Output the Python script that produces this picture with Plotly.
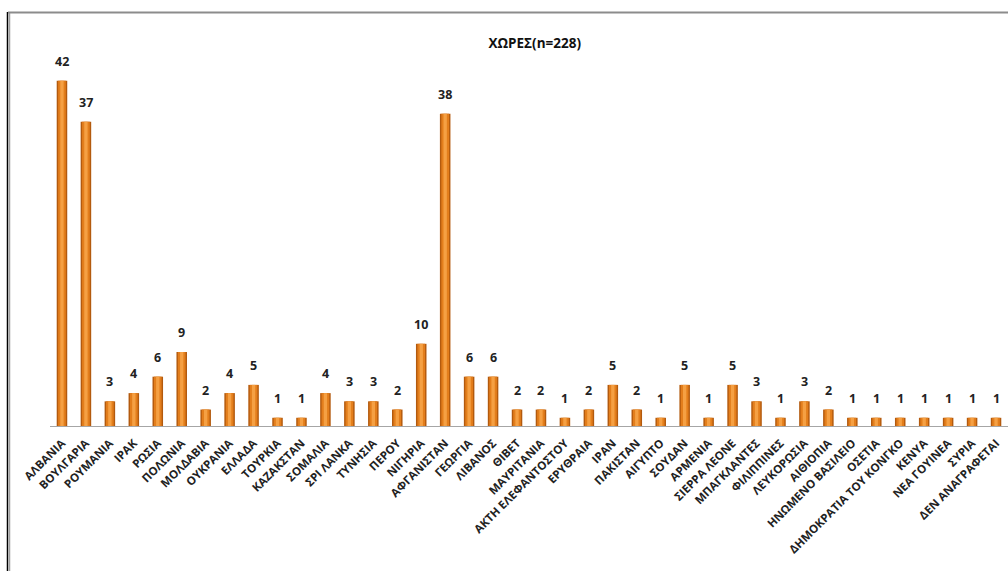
import plotly.graph_objects as go

categories = ["ΑΛΒΑΝΙΑ", "ΒΟΥΛΓΑΡΙΑ", "ΡΟΥΜΑΝΙΑ", "ΙΡΑΚ", "ΡΩΣΙΑ", "ΠΟΛΩΝΙΑ", "ΜΟΛΔΑΒΙΑ",
              "ΟΥΚΡΑΝΙΑ", "ΕΛΛΑΔΑ", "ΤΟΥΡΚΙΑ", "ΚΑΖΑΚΣΤΑΝ", "ΣΟΜΑΛΙΑ", "ΣΡΙ ΛΑΝΚΑ", "ΤΥΝΗΣΙΑ",
              "ΠΕΡΟΥ", "ΝΙΓΗΡΙΑ", "ΑΦΓΑΝΙΣΤΑΝ", "ΓΕΩΡΓΙΑ", "ΛΙΒΑΝΟΣ", "ΘΙΒΕΤ", "ΜΑΥΡΙΤΑΝΙΑ",
              "ΑΚΤΗ ΕΛΕΦΑΝΤΟΣΤΟΥ", "ΕΡΥΘΡΑΙΑ", "ΙΡΑΝ", "ΠΑΚΙΣΤΑΝ", "ΑΙΓΥΠΤΟ", "ΣΟΥΔΑΝ",
              "ΑΡΜΕΝΙΑ", "ΣΙΕΡΡΑ ΛΕΟΝΕ", "ΜΠΑΓΚΛΑΝΤΕΣ", "ΦΙΛΙΠΠΙΝΕΣ", "ΛΕΥΚΟΡΩΣΙΑ",
              "ΑΙΘΙΟΠΙΑ", "ΗΝΩΜΕΝΟ ΒΑΣΙΛΕΙΟ", "ΟΣΕΤΙΑ", "ΔΗΜΟΚΡΑΤΙΑ ΤΟΥ ΚΟΝΓΚΟ", "ΚΕΝΥΑ",
              "ΝΕΑ ΓΟΥΙΝΕΑ", "ΣΥΡΙΑ", "ΔΕΝ ΑΝΑΓΡΑΦΕΤΑΙ"]
values = [42, 37, 3, 4, 6, 9, 2, 4, 5, 1, 1, 4, 3, 3, 2, 10, 38, 6, 6, 2, 2,
          1, 2, 5, 2, 1, 5, 1, 5, 3, 1, 3, 2, 1, 1, 1, 1, 1, 1, 1]
title_text = "ΧΩΡΕΣ(n=228)"

FONT = "Open Sans"

fig = go.Figure()
# layered bars to imitate the cylinder gradient
fig.add_trace(go.Bar(x=categories, y=values, width=0.44,
                     marker=dict(color="#B35A0E", line=dict(width=0)), hoverinfo="skip"))
fig.add_trace(go.Bar(x=categories, y=values, width=0.32,
                     marker=dict(color="#E37E1C", line=dict(width=0)), hoverinfo="skip"))
fig.add_trace(go.Bar(x=categories, y=values, width=0.14,
                     marker=dict(color="#F5A043", line=dict(width=0)), hoverinfo="skip"))

annotations = [dict(x=c, y=v, text=str(v), showarrow=False, xanchor="center",
                    yanchor="bottom", yshift=9,
                    font=dict(family=FONT, size=12.5, color="#222222", weight="bold"))
               for c, v in zip(categories, values)]

W, H = 1008, 571
ml, mr, mt, mb = 50, 0, 60, 145
pw, ph = W - ml - mr, H - mt - mb

def px_x(p):
    return (p - ml) / pw

def px_y(p):
    return (H - mb - p) / ph

shapes = [
    dict(type="line", xref="paper", yref="paper", x0=px_x(7.5), x1=px_x(7.5),
         y0=px_y(12), y1=px_y(571), line=dict(color="#000000", width=1.5)),
    dict(type="line", xref="paper", yref="paper", x0=px_x(9.5), x1=px_x(9.5),
         y0=px_y(13), y1=px_y(571), line=dict(color="#A0A0A0", width=1.5)),
    dict(type="line", xref="paper", yref="paper", x0=px_x(8), x1=px_x(1008),
         y0=px_y(12.5), y1=px_y(12.5), line=dict(color="#8C8C8C", width=2)),
]

fig.update_layout(
    width=W, height=H,
    margin=dict(l=ml, r=mr, t=mt, b=mb),
    barmode="overlay",
    showlegend=False,
    plot_bgcolor="white", paper_bgcolor="white",
    title=dict(text=title_text, x=0.506, xanchor="center", xref="paper",
               y=1 - 43 / H, yref="container", yanchor="middle",
               font=dict(family=FONT, size=13.5, color="#111111", weight="bold")),
    xaxis=dict(tickangle=-45, showline=True, linecolor="#A6A6A6", linewidth=1,
               ticks="", showgrid=False, range=[-0.5, len(categories) - 0.5],
               ticklabelstandoff=5,
               tickfont=dict(family=FONT, size=11.5, color="#222222", weight="bold")),
    yaxis=dict(visible=False, range=[0, ph / 8.22], showgrid=False, zeroline=False),
    annotations=annotations,
    shapes=shapes,
)

fig.write_html("out.html")
